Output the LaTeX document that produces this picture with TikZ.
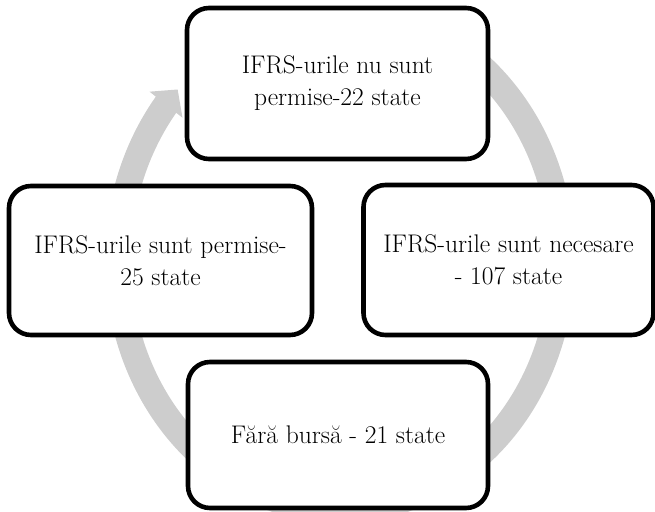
\documentclass[tikz,border=0pt]{standalone}
\usetikzlibrary{calc,shadows}

\definecolor{ringgray}{RGB}{205,205,205}

\tikzset{
  stagebox/.style={
    draw=black, line width=4.6pt, fill=white, rounded corners=22pt,
    align=center, inner sep=0pt,
    font=\fontsize{25.5}{32}\selectfont,
    drop shadow={shadow xshift=1pt, shadow yshift=-1.2pt, opacity=0.35, fill=black}
  }
}

\begin{document}
\begin{tikzpicture}[x=1pt,y=1pt]
  \useasboundingbox (0,0) rectangle (655,511);

  % centre of the cycle arrow
  \coordinate (C) at (340,251);

  % continuous clockwise cycle arrow with its head at the upper left
  \fill[ringgray]
    ($(C)+({235*cos(70)},{263*sin(70)})$)
      arc[start angle=70, end angle=-218.4, x radius=235, y radius=263]
    -- ($(C)+({243*cos(141.6)},{271*sin(141.6)})$)
    -- ($(C)+({222*cos(137)},{250*sin(137)})$)
    -- ($(C)+({201*cos(141.6)},{229*sin(141.6)})$)
    -- ($(C)+({209*cos(141.6)},{237*sin(141.6)})$)
      arc[start angle=-218.4, end angle=70, x radius=209, y radius=237]
    -- cycle;

  % the four stages
  \node[stagebox, minimum width=301pt, minimum height=151pt] (top)
    at (337.5,427.5) {IFRS-urile nu sunt\\permise-22 state};
  \node[stagebox, minimum width=290pt, minimum height=150pt] (right)
    at (508.5,251) {IFRS-urile sunt necesare\\- 107 state};
  \node[stagebox, minimum width=300pt, minimum height=146pt] (bottom)
    at (338,76) {Fără bursă - 21 state};
  \node[stagebox, minimum width=303pt, minimum height=149pt] (left)
    at (160.5,250.5) {IFRS-urile sunt permise-\\25 state};
\end{tikzpicture}
\end{document}
